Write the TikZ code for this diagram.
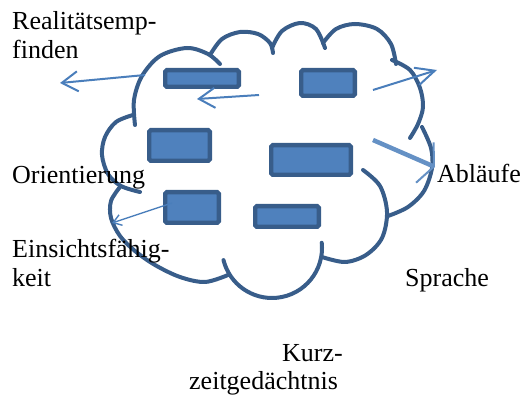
\documentclass[tikz,border=0pt]{standalone}
\usepackage{fontspec}
\setmainfont{Liberation Serif}
\usetikzlibrary{arrows.meta}
\definecolor{boxfill}{HTML}{4F81BD}
\definecolor{boxline}{HTML}{385D8A}
\definecolor{arrowblue}{HTML}{4A7EBB}
\begin{document}
\begin{tikzpicture}[x=1pt,y=-1pt,
  cloudline/.style={draw=boxline, line width=4pt, line cap=round, line join=round},
  blockbox/.style={draw=boxline, fill=boxfill, line width=4.4pt, rounded corners=1.5pt, inner sep=0pt, outer sep=0pt},
  txtlabel/.style={anchor=base west, inner sep=0pt, font=\fontsize{26}{29}\selectfont},
  pointer/.style={draw=arrowblue, line width=2pt, -{Straight Barb[length=16pt,width=20pt]}},
  thinpointer/.style={draw=arrowblue, line width=1.4pt, -{Straight Barb[length=8pt,width=11pt]}},
  thickpointer/.style={draw=arrowblue!85!white, line width=4.5pt, -{Straight Barb[length=10pt,width=44pt,line width=2pt]}}]
\useasboundingbox (0,0) rectangle (523,398);

% cloud lobes
\draw[cloudline] plot[smooth, tension=0.55] coordinates {(135,125) (134,100) (142,76) (160,56) (187,48) (208,54) (220,64)};
\draw[cloudline] plot[smooth, tension=0.55] coordinates {(210,55) (222,39) (240,32) (258,34) (270,43) (273,53)};
\draw[cloudline] plot[smooth, tension=0.55] coordinates {(272,48) (282,31) (300,23) (316,29) (325,48)};
\draw[cloudline] plot[smooth, tension=0.55] coordinates {(323,43) (336,29) (355,24) (377,29) (391,44) (396,64)};
\draw[cloudline] plot[smooth, tension=0.55] coordinates {(392,60) (410,70) (420,88) (423,107) (418,124) (410,138)};
\draw[cloudline] plot[smooth, tension=0.55] coordinates {(422,127) (431,148) (432,168) (424,191) (408,207) (388,216)};
\draw[cloudline] plot[smooth, tension=0.55] coordinates {(363,170) (380,186) (387,212) (382,238) (366,255) (345,262) (322,257)};
\draw[cloudline] (272,248) ++(-6:50) arc[start angle=-6, end angle=166, radius=50];
\draw[cloudline] plot[smooth, tension=0.55] coordinates {(120,187) (111,201) (111,218) (120,236) (135,251) (155,265) (180,277) (205,282) (228,275)};
\draw[cloudline] plot[smooth, tension=0.55] coordinates {(133,115) (116,122) (105,137) (102,155) (108,174) (121,186) (140,192)};

% blocks
\node[blockbox, minimum width=73.6pt, minimum height=16.6pt] (r1) at (202,78.5) {};
\node[blockbox, minimum width=53.6pt, minimum height=25.6pt] (r2) at (328,83) {};
\node[blockbox, minimum width=60.6pt, minimum height=30.6pt] (r3) at (179.5,145.5) {};
\node[blockbox, minimum width=79.6pt, minimum height=29.6pt] (r4) at (311,160) {};
\node[blockbox, minimum width=53.6pt, minimum height=30.6pt] (r5) at (192,207.5) {};
\node[blockbox, minimum width=63.6pt, minimum height=20.6pt] (r6) at (287,216.5) {};

% arrows
\coordinate (a1s) at (145,75);  \coordinate (a1e) at (60,83);
\coordinate (a2s) at (259,95);  \coordinate (a2e) at (197,99);
\coordinate (a3s) at (373,90);  \coordinate (a3e) at (437,70);
\coordinate (a4s) at (373,140); \coordinate (a4e) at (435,167);
\coordinate (a5s) at (172,203); \coordinate (a5e) at (112,223);
\draw[pointer] (a1s) -- (a1e);
\draw[pointer] (a2s) -- (a2e);
\draw[pointer, -{Straight Barb[length=19pt,width=18pt]}] (a3s) -- (a3e);
\draw[thickpointer] (a4s) -- (a4e);
\draw[thinpointer] (a5s) -- (a5e);

% labels
\node[txtlabel] (t1a) at (12,30) {Realitätsemp-};
\node[txtlabel] (t1b) at (12,59) {finden};
\node[txtlabel] (t2) at (12,184) {Orientierung};
\node[txtlabel] (t3a) at (12,258) {Einsichtsfähig-};
\node[txtlabel] (t3b) at (12,287) {keit};
\node[txtlabel] (t4) at (437,183) {Abläufe};
\node[txtlabel] (t5) at (405,287) {Sprache};
\node[txtlabel] (t6a) at (282,362) {Kurz-};
\node[txtlabel] (t6b) at (189,390) {zeitgedächtnis};
\end{tikzpicture}
\end{document}
